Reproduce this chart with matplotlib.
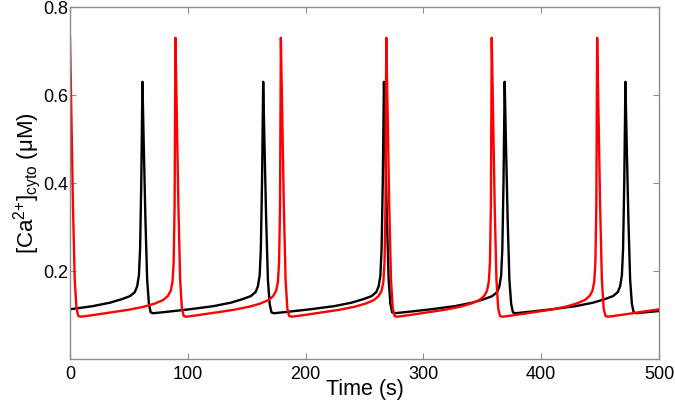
import matplotlib
matplotlib.use('Agg')
import matplotlib.pyplot as plt

plt.rcParams['font.family'] = ['Liberation Sans', 'DejaVu Sans']
plt.rcParams['mathtext.fontset'] = 'custom'
plt.rcParams['mathtext.rm'] = 'Liberation Sans'
plt.rcParams['mathtext.it'] = 'Liberation Sans:italic'

# black trace
t_black = [0, 19, 34, 44, 51, 55, 57, 58.5, 59.5, 60.5, 61.5,
           62.5, 64, 65.5, 67, 68.5, 70.5, 81.5, 101.5, 121.5, 136.5, 146.5, 153.5, 157.5, 159.5, 161, 162, 163, 164,
           165, 166.5, 168, 169.5, 171, 173, 184, 204, 224, 239, 249, 256, 260, 262, 263.5, 264.5, 265.5, 266.5,
           267.5, 269, 270.5, 272, 273.5, 275.5, 286.5, 306.5, 326.5, 341.5, 351.5, 358.5, 362.5, 364.5, 366, 367, 368, 369,
           370, 371.5, 373, 374.5, 376, 378, 389, 409, 429, 444, 454, 461, 465, 467, 468.5, 469.5, 470.5, 471.5,
           472.5, 474, 475.5, 477, 478.5, 480.5, 491.5, 500]
ca_black = [0.113, 0.120, 0.128, 0.136, 0.143, 0.152, 0.165, 0.19, 0.25, 0.40, 0.63,
            0.50, 0.32, 0.18, 0.125, 0.106, 0.104, 0.107, 0.113, 0.120, 0.128, 0.136, 0.143, 0.152, 0.165, 0.19, 0.25, 0.40, 0.63,
            0.50, 0.32, 0.18, 0.125, 0.106, 0.104, 0.107, 0.113, 0.120, 0.128, 0.136, 0.143, 0.152, 0.165, 0.19, 0.25, 0.40, 0.63,
            0.50, 0.32, 0.18, 0.125, 0.106, 0.104, 0.107, 0.113, 0.120, 0.128, 0.136, 0.143, 0.152, 0.165, 0.19, 0.25, 0.40, 0.63,
            0.50, 0.32, 0.18, 0.125, 0.106, 0.104, 0.107, 0.113, 0.120, 0.128, 0.136, 0.143, 0.152, 0.165, 0.19, 0.25, 0.40, 0.63,
            0.50, 0.32, 0.18, 0.125, 0.106, 0.104, 0.107, 0.109]

# red trace
t_red = [0, 1, 2.5, 4, 5.5, 7, 9, 20, 35, 50, 63, 72, 79, 83, 85.5, 87, 88, 88.8,
         89.5, 90.5, 92, 93.5, 95, 96.5, 98.5, 109.5, 124.5, 139.5, 152.5, 161.5, 168.5, 172.5, 175, 176.5, 177.5, 178.3,
         179, 180, 181.5, 183, 184.5, 186, 188, 199, 214, 229, 242, 251, 258, 262, 264.5, 266, 267, 267.8,
         268.5, 269.5, 271, 272.5, 274, 275.5, 277.5, 288.5, 303.5, 318.5, 331.5, 340.5, 347.5, 351.5, 354, 355.5, 356.5, 357.3,
         358, 359, 360.5, 362, 363.5, 365, 367, 378, 393, 408, 421, 430, 437, 441, 443.5, 445, 446, 446.8,
         447.5, 448.5, 450, 451.5, 453, 454.5, 456.5, 467.5, 482.5, 497.5, 500]
ca_red = [0.73, 0.58, 0.35, 0.18, 0.115, 0.098, 0.096, 0.100, 0.106, 0.112, 0.119, 0.126, 0.134, 0.143, 0.155, 0.175, 0.22, 0.35,
          0.73, 0.58, 0.35, 0.18, 0.115, 0.098, 0.096, 0.100, 0.106, 0.112, 0.119, 0.126, 0.134, 0.143, 0.155, 0.175, 0.22, 0.35,
          0.73, 0.58, 0.35, 0.18, 0.115, 0.098, 0.096, 0.100, 0.106, 0.112, 0.119, 0.126, 0.134, 0.143, 0.155, 0.175, 0.22, 0.35,
          0.73, 0.58, 0.35, 0.18, 0.115, 0.098, 0.096, 0.100, 0.106, 0.112, 0.119, 0.126, 0.134, 0.143, 0.155, 0.175, 0.22, 0.35,
          0.73, 0.58, 0.35, 0.18, 0.115, 0.098, 0.096, 0.100, 0.106, 0.112, 0.119, 0.126, 0.134, 0.143, 0.155, 0.175, 0.22, 0.35,
          0.73, 0.58, 0.35, 0.18, 0.115, 0.098, 0.096, 0.100, 0.106, 0.112, 0.113]

x_ticks = [0, 100, 200, 300, 400, 500]
y_ticks = [0.2, 0.4, 0.6, 0.8]

fig = plt.figure(figsize=(6.75, 4.03), dpi=100)
ax = fig.add_axes([70 / 675, 44 / 403, 589 / 675, 352 / 403])

ax.plot(t_black, ca_black, color='black', lw=1.7)
ax.plot(t_red, ca_red, color='red', lw=1.7)

ax.set_xlim(0, 500)
ax.set_ylim(0, 0.8)
ax.set_xticks(x_ticks)
ax.set_yticks(y_ticks)
ax.set_yticklabels(['0.2', '0.4', '0.6', '0.8'])
ax.tick_params(direction='in', top=True, right=True, length=4, color='#8c8c8c', labelsize=13)
ax.tick_params(axis='x', pad=5)
ax.tick_params(axis='y', pad=1.5)
for s in ax.spines.values():
    s.set_color('#8c8c8c')
    s.set_linewidth(1)

ax.set_xlabel('Time (s)', fontsize=15.5, labelpad=-2.5)
ax.set_ylabel(r'[Ca$^{2{+}}$]$_{\mathrm{cyto}}$ (μM)', fontsize=16, labelpad=0)

fig.savefig('out.png', dpi=100)
